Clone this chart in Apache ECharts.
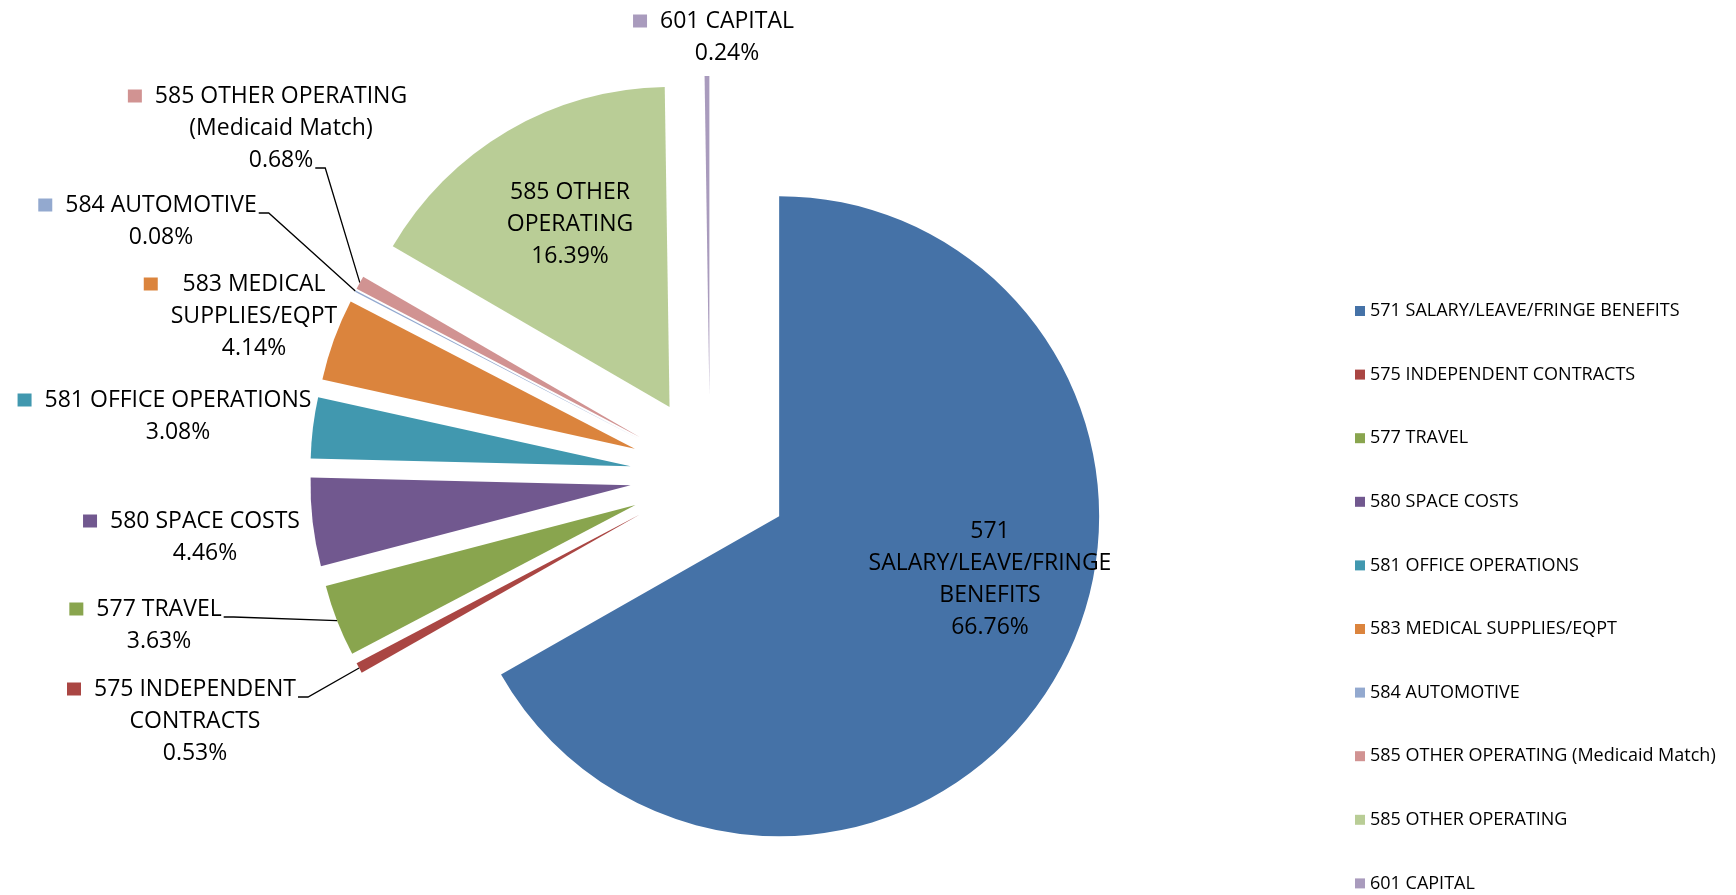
<!DOCTYPE html>
<html><head><meta charset="utf-8">
<script src="https://cdn.jsdelivr.net/npm/echarts@6/dist/echarts.min.js"></script>
<style>html,body{margin:0;padding:0;background:#fff}#c{width:1736px;height:895px}</style>
</head><body><div id="c"></div>
<script>
// ---- data ----
const categories = ['571 SALARY/LEAVE/FRINGE BENEFITS','575 INDEPENDENT CONTRACTS','577 TRAVEL','580 SPACE COSTS','581 OFFICE OPERATIONS','583 MEDICAL SUPPLIES/EQPT','584 AUTOMOTIVE','585 OTHER OPERATING (Medicaid Match)','585 OTHER OPERATING','601 CAPITAL'];
const shares = [66.76, 0.53, 3.63, 4.46, 3.08, 4.14, 0.08, 0.68, 16.39, 0.24];
const labelNameLines = [['571','SALARY/LEAVE/FRINGE','BENEFITS'],['575 INDEPENDENT','CONTRACTS'],['577 TRAVEL'],['580 SPACE COSTS'],['581 OFFICE OPERATIONS'],['583 MEDICAL','SUPPLIES/EQPT'],['584 AUTOMOTIVE'],['585 OTHER OPERATING','(Medicaid Match)'],['585 OTHER','OPERATING'],['601 CAPITAL']];
const colors = ['#4572A7','#AA4643','#89A54E','#71588F','#4198AF','#DB843D','#93A9CF','#D19392','#B9CD96','#A99BBD'];

// ---- layout / style ----
const CENTER = [710, 476], RADIUS = 320, EXPLODE = 80;
const labelCenters = [[990,579],[195,721],[159,625],[205,537],[178,416],[254,316],[161,221],[281,128],[570,224],[727,37]];
const insideLabel = [true,false,false,false,false,false,false,false,true,false];
const showLeader = [false,true,true,false,false,false,true,true,false,false];
const leaderLineIdx = [0,0,0,0,0,0,0,2,0,0]; // which text line the leader attaches to
const FONT = '"Open Sans", sans-serif';
const FS = 23, LH = 32, MK_W = 14, MK_H = 13, MK_GAP = 13;

const ctx = document.createElement('canvas').getContext('2d');
ctx.font = FS + 'px ' + FONT;
const tw = s => ctx.measureText(s).width;

const allLines = labelNameLines.map((l, i) => l.concat([shares[i].toFixed(2) + '%']));

const pieData = categories.map((name, i) => ({
  name, value: shares[i], selected: true, itemStyle: {color: colors[i]}
}));

const labelData = categories.map((name, i) => {
  const lines = allLines[i];
  let text, rich = {};
  if (insideLabel[i]) {
    text = lines.join('\n');
  } else {
    const maxW = Math.max(...lines.map(tw));
    const gap = MK_GAP + Math.max(0, (maxW - tw(lines[0])) / 2);
    text = '{m|}{g|}' + lines[0] + '{p|}' + (lines.length > 1 ? '\n' + lines.slice(1).join('\n') : '');
    rich = {
      m: {width: MK_W, height: MK_H, backgroundColor: colors[i]},
      g: {width: gap},
      p: {width: MK_W + gap}
    };
  }
  return {
    name, value: shares[i],
    itemStyle: {color: 'rgba(0,0,0,0)'},
    label: {formatter: text, rich, position: insideLabel[i] ? 'inside' : 'outside'},
    labelLine: {show: showLeader[i]}
  };
});

const chart = echarts.init(document.getElementById('c'), null, {renderer: 'canvas'});
chart.setOption({
  animation: false,
  backgroundColor: '#fff',
  legend: {
    orient: 'vertical', left: 1350, top: 297, height: 598,
    itemWidth: 10, itemHeight: 10, itemGap: 45.6,
    icon: 'rect', selectedMode: false,
    data: categories.map((n, i) => ({name: n, itemStyle: {color: colors[i]}})),
    textStyle: {fontFamily: FONT, fontSize: 18, lineHeight: 18, color: '#000'}
  },
  series: [{
    type: 'pie',
    center: CENTER, radius: RADIUS,
    startAngle: 90, clockwise: true,
    selectedMode: 'multiple', selectedOffset: EXPLODE,
    emphasis: {disabled: true},
    itemStyle: {borderWidth: 0},
    label: {show: false}, labelLine: {show: false},
    data: pieData
  }, {
    type: 'pie',
    silent: true,
    center: CENTER, radius: RADIUS,
    startAngle: 90, clockwise: true,
    selectedMode: false,
    avoidLabelOverlap: false,
    emphasis: {disabled: true},
    itemStyle: {borderWidth: 0},
    label: {fontFamily: FONT, fontSize: FS, lineHeight: LH, color: '#000', align: 'center'},
    labelLine: {lineStyle: {color: '#000', width: 1.3}, length: 20, length2: 10},
    labelLayout: function (p) {
      const i = p.dataIndex;
      const c = labelCenters[i];
      const res = {x: c[0], y: c[1], align: 'center', verticalAlign: 'middle'};
      if (showLeader[i] && p.labelLinePoints) {
        const p0 = p.labelLinePoints[0];
        const dx = p0[0] - CENTER[0], dy = p0[1] - CENTER[1], len = Math.hypot(dx, dy);
        const start = [p0[0] + EXPLODE * dx / len, p0[1] + EXPLODE * dy / len];
        const lines = allLines[i], k = leaderLineIdx[i];
        const ly = c[1] - lines.length * LH / 2 + LH * (k + 0.5) + 8;
        const lx = c[0] + tw(lines[k]) / 2 + 2;
        res.labelLinePoints = [start, [lx + 10, ly], [lx, ly]];
      }
      return res;
    },
    data: labelData
  }]
});
</script></body></html>
